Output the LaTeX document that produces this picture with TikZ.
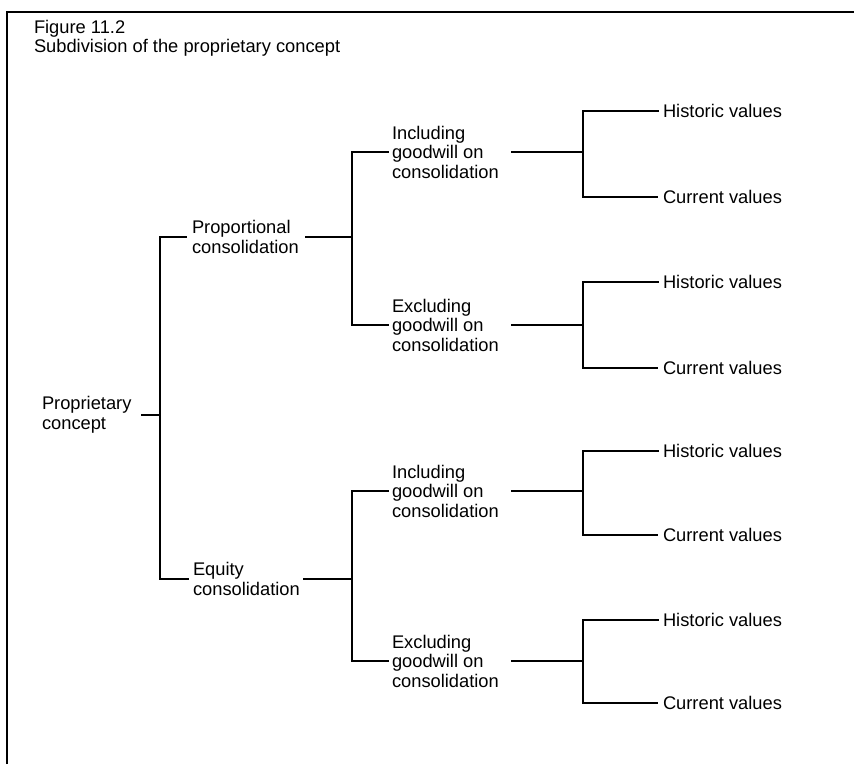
\documentclass[tikz,border=0pt]{standalone}
\usepackage{fontspec}
\setmainfont{Liberation Sans}
\begin{document}
\begin{tikzpicture}[x=1pt,y=-1pt,
  lbl/.style={anchor=west,inner sep=0pt,outer sep=0pt,align=left,
    font=\fontsize{18.3}{19.5}\selectfont},
  conn/.style={line width=2pt,line cap=rect},
  stem/.style={line width=2.6pt},
  frame/.style={line width=2.2pt}]
\fill[white] (0,0) rectangle (854,764);
\useasboundingbox (0,0) rectangle (854,764);
% frame
\draw[frame] (7,764) -- (7,12) -- (860,12);
% title
\node[lbl,anchor=north west] (title) at (34,20) {Figure 11.2\\Subdivision of the proprietary concept};
% level 0
\node[lbl] (pc) at (42,415) {Proprietary\\concept};
% level 1
\node[lbl] (pp) at (192,237) {Proportional\\consolidation};
\node[lbl] (eq) at (193,579) {Equity\\consolidation};
% level 2
\node[lbl] (pi) at (392,152) {Including\\goodwill on\\consolidation};
\node[lbl] (pe) at (392,325) {Excluding\\goodwill on\\consolidation};
\node[lbl] (ei) at (392,491) {Including\\goodwill on\\consolidation};
\node[lbl] (ee) at (392,661) {Excluding\\goodwill on\\consolidation};
% level 3
\node[lbl] (h1) at (663,111) {Historic values};
\node[lbl] (c1) at (663,197) {Current values};
\node[lbl] (h2) at (663,282) {Historic values};
\node[lbl] (c2) at (663,368) {Current values};
\node[lbl] (h3) at (663,451) {Historic values};
\node[lbl] (c3) at (663,535) {Current values};
\node[lbl] (h4) at (663,620) {Historic values};
\node[lbl] (c4) at (663,703) {Current values};
% junctions
\coordinate (j1) at (160,416);
\coordinate (j2) at (352,236);
\coordinate (j3) at (352,579);
\coordinate (k1) at (583,152);
\coordinate (k2) at (583,325);
\coordinate (k3) at (583,491);
\coordinate (k4) at (583,661);
% level 0 -> 1
\draw[conn] ([xshift=10pt]pc.east) -- (pc.east -| j1);
\draw[conn] ([xshift=-6pt]pp.west) -| (j1) |- ([xshift=-5pt]eq.west);
% level 1 -> 2
\draw[conn,stem] ([xshift=7pt]pp.east) -- (pp.east -| j2);
\draw[conn] ([xshift=-4pt]pi.west) -| (j2) |- ([xshift=-4pt]pe.west);
\draw[conn,stem] ([xshift=4pt]eq.east) -- (eq.east -| j3);
\draw[conn] ([xshift=-4pt]ei.west) -| (j3) |- ([xshift=-4pt]ee.west);
% level 2 -> 3
\draw[conn,stem] ([xshift=13pt]pi.east) -- (pi.east -| k1);
\draw[conn] ([xshift=-5pt]h1.west) -| (k1) |- ([xshift=-6pt]c1.west);
\draw[conn,stem] ([xshift=13pt]pe.east) -- (pe.east -| k2);
\draw[conn] ([xshift=-5pt]h2.west) -| (k2) |- ([xshift=-6pt]c2.west);
\draw[conn,stem] ([xshift=13pt]ei.east) -- (ei.east -| k3);
\draw[conn] ([xshift=-5pt]h3.west) -| (k3) |- ([xshift=-6pt]c3.west);
\draw[conn,stem] ([xshift=13pt]ee.east) -- (ee.east -| k4);
\draw[conn] ([xshift=-5pt]h4.west) -| (k4) |- ([xshift=-6pt]c4.west);
\end{tikzpicture}
\end{document}
